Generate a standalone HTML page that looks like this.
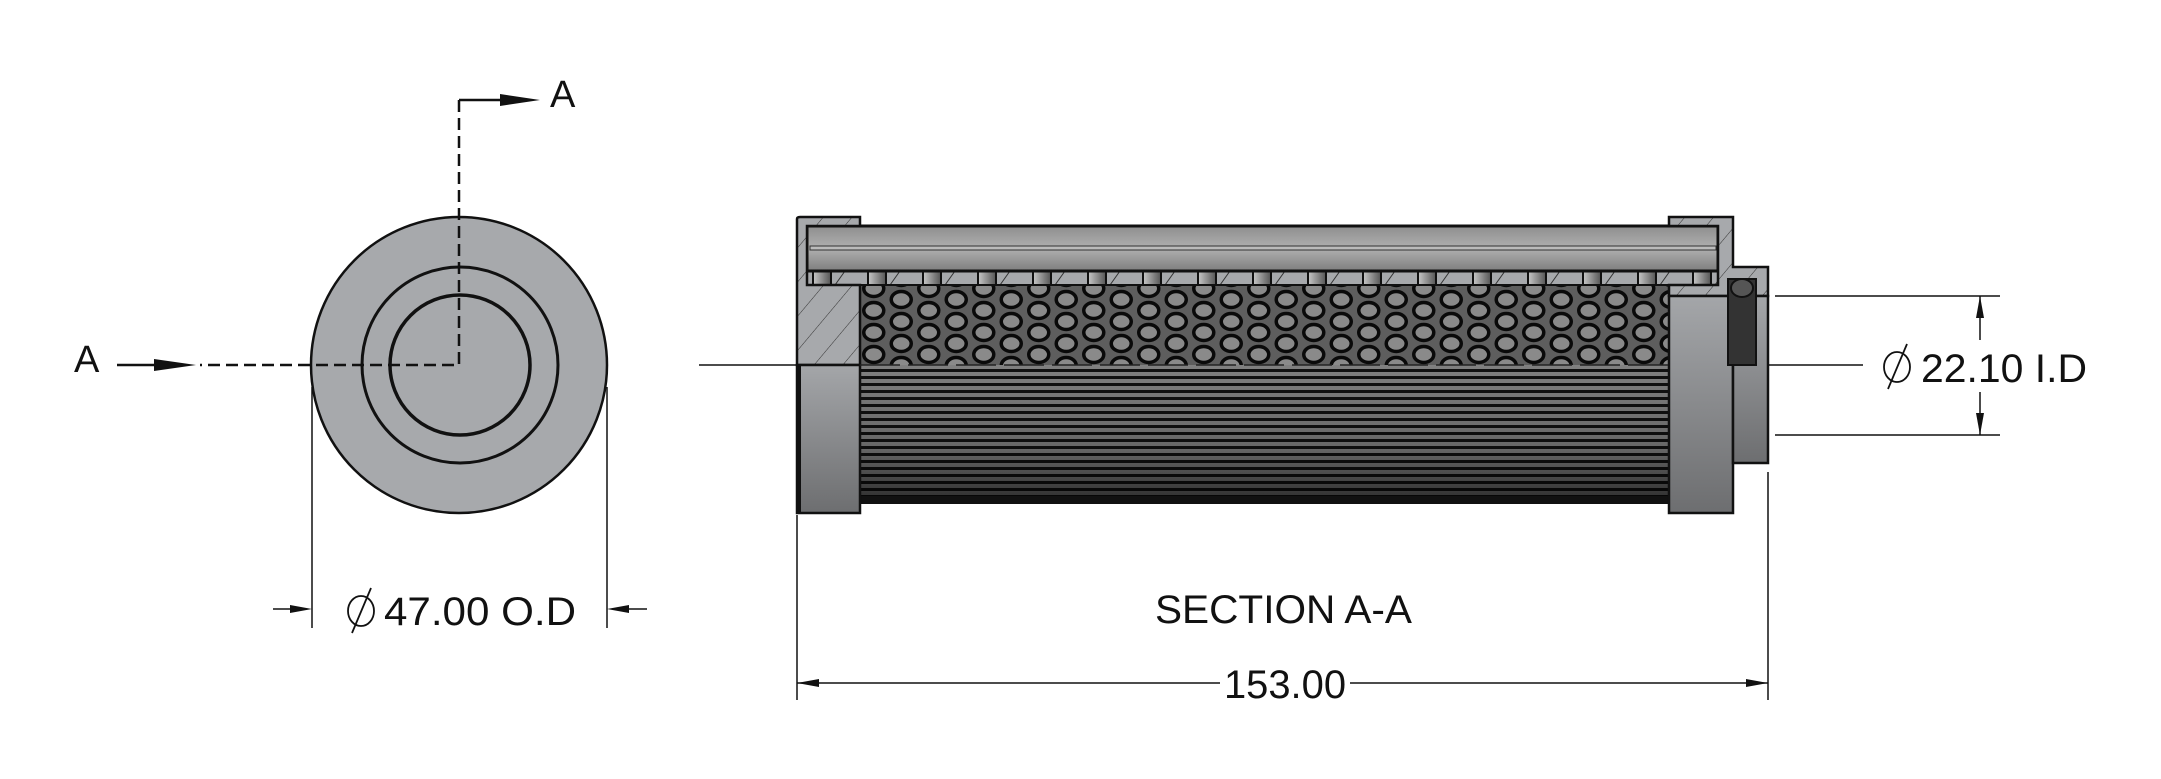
<!DOCTYPE html>
<html><head><meta charset="utf-8"><style>
html,body{margin:0;padding:0;background:#fff;}
svg{display:block;}
text{font-family:"Liberation Sans",sans-serif;fill:#111;}
</style></head><body>
<svg width="2161" height="779" viewBox="0 0 2161 779" xmlns="http://www.w3.org/2000/svg">
<defs>
<pattern id="holes" x="860" y="283" width="55" height="22" patternUnits="userSpaceOnUse">
<rect width="55" height="22" fill="#5e5e5e"/>
<ellipse cx="13.75" cy="5.5" rx="10" ry="8" fill="#8a8a8a" stroke="#0a0a0a" stroke-width="3.5"/>
<ellipse cx="41.25" cy="16.5" rx="10" ry="8" fill="#8a8a8a" stroke="#0a0a0a" stroke-width="3.5"/>
<ellipse cx="41.25" cy="-5.5" rx="10" ry="8" fill="#8a8a8a" stroke="#0a0a0a" stroke-width="3.5"/>
<ellipse cx="13.75" cy="27.5" rx="10" ry="8" fill="#8a8a8a" stroke="#0a0a0a" stroke-width="3.5"/>
</pattern>
<pattern id="pleat" x="0" y="365" width="10" height="7" patternUnits="userSpaceOnUse">
<rect width="10" height="7" fill="#808080"/>
<rect y="4" width="10" height="3" fill="#111"/>
</pattern>
<linearGradient id="pdark" x1="0" y1="0" x2="0" y2="1">
<stop offset="0" stop-color="#000" stop-opacity="0"/>
<stop offset="0.6" stop-color="#000" stop-opacity="0.2"/>
<stop offset="1" stop-color="#000" stop-opacity="0.65"/>
</linearGradient>
<pattern id="hatch" width="22" height="22" patternUnits="userSpaceOnUse" patternTransform="rotate(40)">
<rect width="22" height="22" fill="#a7a9ac"/>
<line x1="0" y1="0" x2="0" y2="22" stroke="#333" stroke-width="1"/>
</pattern>
<linearGradient id="capg" x1="0" y1="0" x2="0" y2="1">
<stop offset="0" stop-color="#a4a6a9"/><stop offset="1" stop-color="#6d6e70"/>
</linearGradient>
<linearGradient id="tubeg" x1="0" y1="0" x2="0" y2="1">
<stop offset="0" stop-color="#8e8e8e"/><stop offset="0.5" stop-color="#b0b0b0"/><stop offset="1" stop-color="#7e7e7e"/>
</linearGradient>
<linearGradient id="slotg" x1="0" y1="0" x2="1" y2="0">
<stop offset="0" stop-color="#c8c8c8"/><stop offset="1" stop-color="#555"/>
</linearGradient>
<pattern id="slots" x="860" y="271" width="55" height="14" patternUnits="userSpaceOnUse">
<rect x="0" y="0" width="55" height="14" fill="#a7a9ac"/>
<line x1="30" y1="14" x2="40" y2="0" stroke="#333" stroke-width="1"/>
<rect x="8" y="0" width="18" height="14" fill="url(#slotg)" stroke="#111" stroke-width="2"/>
</pattern>
</defs>

<!-- End view -->
<circle cx="459" cy="365" r="148" fill="#a7a9ac" stroke="#111" stroke-width="2.5"/>
<circle cx="460" cy="365" r="98" fill="none" stroke="#111" stroke-width="3"/>
<circle cx="460" cy="365" r="70" fill="none" stroke="#111" stroke-width="3.5"/>
<path d="M459 100 V365 H200" fill="none" stroke="#111" stroke-width="2.5" stroke-dasharray="12 6"/>
<line x1="459" y1="100" x2="505" y2="100" stroke="#111" stroke-width="2.5"/>
<polygon points="500,94 540,100 500,106" fill="#111"/>
<text x="550" y="107" font-size="38">A</text>
<line x1="117" y1="365" x2="160" y2="365" stroke="#111" stroke-width="2.5"/>
<polygon points="154,359 196,365 154,371" fill="#111"/>
<text x="74" y="372" font-size="38">A</text>
<!-- 47 dim -->
<line x1="312" y1="387" x2="312" y2="628" stroke="#111" stroke-width="1.5"/>
<line x1="607" y1="387" x2="607" y2="628" stroke="#111" stroke-width="1.5"/>
<line x1="273" y1="609" x2="300" y2="609" stroke="#111" stroke-width="1.5"/>
<polygon points="290,605 312,609 290,613" fill="#111"/>
<line x1="620" y1="609" x2="647" y2="609" stroke="#111" stroke-width="1.5"/>
<polygon points="629,605 607,609 629,613" fill="#111"/>
<ellipse cx="361" cy="611" rx="13" ry="15" fill="none" stroke="#111" stroke-width="1.8"/>
<line x1="352" y1="633" x2="371" y2="588" stroke="#111" stroke-width="1.8"/>
<text x="384" y="625" font-size="40" textLength="192" lengthAdjust="spacingAndGlyphs">47.00 O.D</text>

<!-- Section view -->
<rect x="860" y="365" width="810" height="138" fill="url(#pleat)"/>
<rect x="860" y="365" width="810" height="138" fill="url(#pdark)"/>
<rect x="860" y="496" width="810" height="8" fill="#111"/>
<rect x="860" y="283" width="810" height="82" fill="url(#holes)"/>
<rect x="807" y="271" width="911" height="14" fill="url(#slots)" stroke="#111" stroke-width="2"/>
<rect x="807" y="226" width="911" height="45" fill="url(#tubeg)" stroke="#111" stroke-width="3"/>
<rect x="810" y="246" width="906" height="4" fill="#bbb" stroke="#333" stroke-width="1"/>
<!-- left cap -->
<path d="M797 219 Q797 217 800 217 H860 V226 H807 V285 H860 V365 H797 Z" fill="url(#hatch)" stroke="#111" stroke-width="2.5"/>
<rect x="797" y="365" width="63" height="148" fill="url(#capg)" stroke="#111" stroke-width="2.5"/>
<line x1="799" y1="365" x2="799" y2="512" stroke="#111" stroke-width="4"/>
<!-- right cap -->
<path d="M1669 217 H1733 V267 H1768 V296 H1669 V285 H1718 V226 H1669 Z" fill="url(#hatch)" stroke="#111" stroke-width="2.5"/>
<rect x="1669" y="296" width="64" height="217" fill="url(#capg)" stroke="#111" stroke-width="2.5"/>
<rect x="1733" y="296" width="35" height="167" fill="url(#capg)" stroke="#111" stroke-width="2.5"/>
<rect x="1728" y="279" width="28" height="86" fill="#333" stroke="#111" stroke-width="2"/>
<ellipse cx="1742" cy="288" rx="11" ry="9" fill="#555" stroke="#111" stroke-width="2"/>
<!-- centerline -->
<line x1="699" y1="365" x2="797" y2="365" stroke="#111" stroke-width="1.5"/>
<line x1="860" y1="365" x2="1669" y2="365" stroke="#222" stroke-width="1.5" stroke-dasharray="40 8"/>
<line x1="1768" y1="365" x2="1863" y2="365" stroke="#111" stroke-width="1.5"/>
<!-- 22.10 dim -->
<line x1="1775" y1="296" x2="2000" y2="296" stroke="#111" stroke-width="1.5"/>
<line x1="1775" y1="435" x2="2000" y2="435" stroke="#111" stroke-width="1.5"/>
<line x1="1980" y1="296" x2="1980" y2="340" stroke="#111" stroke-width="1.5"/>
<line x1="1980" y1="392" x2="1980" y2="435" stroke="#111" stroke-width="1.5"/>
<polygon points="1976,318 1980,296 1984,318" fill="#111"/>
<polygon points="1976,413 1980,435 1984,413" fill="#111"/>
<ellipse cx="1897" cy="367" rx="13" ry="15" fill="none" stroke="#111" stroke-width="1.8"/>
<line x1="1888" y1="389" x2="1907" y2="344" stroke="#111" stroke-width="1.8"/>
<text x="1921" y="382" font-size="40" textLength="166" lengthAdjust="spacingAndGlyphs">22.10 I.D</text>
<!-- SECTION -->
<text x="1155" y="623" font-size="40" textLength="257" lengthAdjust="spacingAndGlyphs">SECTION A-A</text>
<!-- 153 dim -->
<line x1="797" y1="515" x2="797" y2="700" stroke="#111" stroke-width="1.5"/>
<line x1="1768" y1="472" x2="1768" y2="700" stroke="#111" stroke-width="1.5"/>
<line x1="797" y1="683" x2="1220" y2="683" stroke="#111" stroke-width="1.5"/>
<line x1="1350" y1="683" x2="1768" y2="683" stroke="#111" stroke-width="1.5"/>
<polygon points="819,679 797,683 819,687" fill="#111"/>
<polygon points="1746,679 1768,683 1746,687" fill="#111"/>
<text x="1224" y="698" font-size="40" textLength="122" lengthAdjust="spacingAndGlyphs">153.00</text>
</svg>
</body></html>
